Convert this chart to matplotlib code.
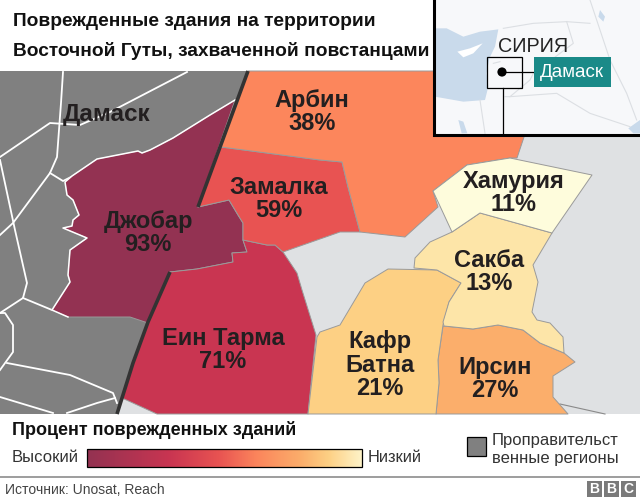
import numpy as np
import matplotlib.pyplot as plt
from matplotlib.colors import LinearSegmentedColormap
from matplotlib.patches import Polygon, Rectangle, Circle

plt.rcParams['font.family'] = ['Liberation Sans', 'DejaVu Sans']

# region values, labels and colours
labels = ['Джобар\n93%', 'Еин Тарма\n71%', 'Замалка\n59%', 'Арбин\n38%',
          'Ирсин\n27%', 'Кафр\nБатна\n21%', 'Сакба\n13%', 'Хамурия\n11%']
colors = ['#933252', '#c93551', '#e85352', '#fc865c', '#fbae6b', '#fdd084', '#fde5a8', '#fefcdc']
label_xy = [(148, 233), (223, 350), (279, 199), (312, 112), (495, 379), (380, 365), (489, 272), (514, 193)]

# outlines in pixels
jobar = [(235,100),(210,115),(173,138),(150,150),(142,153),(138,151),(97,159),(72,176),(65,182),
         (67,195),(73,200),(79,215),(73,220),(72,226),(63,228),(87,238),(70,250),(68,275),(70,282),
         (52,310),(68,317),(130,317),(148,323),(170,272),(197,269),(233,262),(232,253),(247,252),
         (243,240),(243,223),(238,215),(229,200),(198,207)]
ein_tarma = [(170,272),(197,269),(233,262),(232,253),(247,252),(243,240),(267,245),(275,245),(283,252),
             (297,273),(302,290),(316,335),(308,414),(157,414),(122,398),(133,363),(148,322)]
zamalka = [(221,147),(320,160),(342,162),(348,187),(360,232),(340,232),(320,239),(283,252),(275,245),
           (267,245),(243,240),(243,223),(238,215),(229,200),(198,207)]
arbin = [(248,71),(524,71),(524,137),(517,158),(510,158),(467,165),(433,191),(438,207),(405,237),
         (360,232),(348,187),(342,162),(320,160),(221,147)]
irsin = [(443,326),(473,329),(498,325),(523,330),(540,343),(564,353),(575,362),(553,376),(553,397),
         (568,414),(436,414),(439,383),(438,360)]
kafr_batna = [(388,269),(437,270),(461,283),(449,302),(443,325),(438,360),(439,383),(436,414),(308,414),
              (317,337),(320,332),(340,325),(365,283)]
sakba = [(480,213),(552,233),(533,265),(538,282),(532,312),(537,320),(550,323),(563,337),(564,353),
         (540,343),(523,330),(498,325),(473,329),(444,326),(443,322),(449,302),(461,283),(437,270),
         (414,268),(415,258),(430,242),(452,232)]
hamuria = [(433,191),(467,165),(510,158),(592,175),(552,233),(480,213),(452,232)]
regions = [jobar, ein_tarma, zamalka, arbin, irsin, kafr_batna, sakba, hamuria]

gov_area = [(0,71),(248,71),(198,207),(170,272),(117,414),(0,414)]
front_line_a = [(248,71),(198,207)]
front_line_b = [(170,272),(148,322),(133,363),(117,414)]
roads = [[(63,72),(61,103),(57,157),(50,173),(13,223),(0,235)],
         [(187,72),(110,112),(80,125),(50,123),(0,157)],
         [(0,160),(15,230),(27,283),(23,298),(0,313)],
         [(50,173),(63,181),(71,177)],
         [(23,298),(52,310)],
         [(0,313),(5,313),(13,325),(13,352),(0,370)],
         [(7,363),(70,375),(113,393),(117,403)],
         [(0,397),(53,413)],
         [(67,413),(97,403),(115,398)]]

# inset map, coordinates from a 3x crop
sea = [(15,85),(50,85),(100,110),(150,95),(190,90),(205,88),(195,140),(178,175),(170,220),(175,260),
       (165,300),(100,305),(15,290)]
cyprus = [(82,155),(120,145),(158,130),(130,160),(100,172)]
borders = [[(220,85),(310,70),(410,65),(480,70)],
           [(410,65),(430,130),(310,220),(300,240),(240,290),(225,290)],
           [(480,0),(500,60),(540,180),(590,280),(620,360)],
           [(240,290),(380,280),(480,340),(600,380)],
           [(150,300),(165,400)],[(190,190),(210,185)]]
gulf = [(85,360),(100,365),(112,400),(95,400)]
lake = [(510,30),(525,50),(520,65),(505,50)]
east_gulf = [(595,385),(630,360),(630,400),(610,400)]

legend_stops = [0, 0.3, 0.48, 0.62, 0.78, 0.88, 1]
legend_cols = ['#933252', '#c93551', '#e85352', '#fc865c', '#fbae6b', '#fdd084', '#fef3c8']
grey = '#808080'
ink = '#231f20'


def inset_pts(pts):
    return np.array(pts) / 3 + np.array([430, 0])


fig = plt.figure(figsize=(6.4, 5.0), dpi=100)
ax = fig.add_axes([0, 0, 1, 1])

# map background
ax.add_patch(Rectangle((0, 71), 640, 343, fc='#dfe1e3', ec='none', zorder=0))
ax.plot([560, 605], [404, 414], color='#8a8a8a', lw=0.8, zorder=1)
ax.add_patch(Polygon(gov_area, fc=grey, ec='none', zorder=1))
for road in roads:
    r = np.array(road)
    ax.plot(r[:, 0], r[:, 1], color='white', lw=1.3, zorder=2)

for pts, col in zip(regions, colors):
    ax.add_patch(Polygon(pts, fc=col, ec='#9a9a9a', lw=0.7, zorder=3, joinstyle='round'))

# white edge between Jobar and the grey part
edge = np.array(jobar[:21])
ax.plot(edge[:, 0], edge[:, 1], color='white', lw=1.1, zorder=4)

for line in (front_line_a, front_line_b):
    l = np.array(line)
    ax.plot(l[:, 0], l[:, 1], color='#333333', lw=2.6, zorder=5, solid_capstyle='butt')

for (x, y), txt in zip(label_xy, labels):
    ax.text(x, y, txt, fontsize=17, fontweight='bold', color=ink, ha='center', va='center',
            linespacing=1.05, zorder=6)
ax.text(107, 115, 'Дамаск', fontsize=17.5, fontweight='bold', color=ink, ha='center', va='center', zorder=6)

# title
ax.text(13, 21, 'Поврежденные здания на территории', fontsize=13.75, fontweight='bold', color='#111111', va='center')
ax.text(13, 51, 'Восточной Гуты, захваченной повстанцами', fontsize=13.75, fontweight='bold', color='#111111', va='center')

# inset
ax.add_patch(Rectangle((434, 0), 206, 135, fc='#f7f8fa', ec='none', zorder=7))
ax.add_patch(Polygon(inset_pts(sea), fc='#c9daeb', ec='none', zorder=8))
ax.add_patch(Polygon(inset_pts(cyprus), fc='white', ec='none', zorder=8))
for shape in (gulf, lake, east_gulf):
    ax.add_patch(Polygon(inset_pts(shape), fc='#c9daeb', ec='none', zorder=8))
for b in borders:
    p = inset_pts(b)
    ax.plot(p[:, 0], p[:, 1], color='#dcdfe3', lw=0.8, zorder=8)
ax.add_patch(Rectangle((487, 57), 35, 31, fc='none', ec='black', lw=0.9, zorder=9))
ax.plot([503, 503], [88, 135], color='black', lw=0.9, zorder=9)
ax.plot([502, 534], [72, 72], color='black', lw=0.9, zorder=9)
ax.add_patch(Circle((502, 72), 4.6, fc='black', ec='none', zorder=10))
ax.add_patch(Rectangle((534, 57), 77, 30, fc='#1a8a88', ec='none', zorder=9))
ax.text(572, 72.5, 'Дамаск', fontsize=13.5, color='white', ha='center', va='center', zorder=10)
ax.text(533, 47, 'СИРИЯ', fontsize=14.2, color='#222222', ha='center', va='center', zorder=10)
ax.plot([434, 434, 640], [0, 135, 135], color='black', lw=2.2, zorder=11, solid_joinstyle='miter')

# legend
ax.text(12, 430, 'Процент поврежденных зданий', fontsize=13, fontweight='bold', color='#111111', va='center')
ax.text(12, 458, 'Высокий', fontsize=12, color='#333333', va='center')
ax.text(368, 458, 'Низкий', fontsize=11.8, color='#333333', va='center')
cmap = LinearSegmentedColormap.from_list('damage', list(zip(legend_stops, legend_cols)))
ax.imshow(np.linspace(0, 1, 256).reshape(1, -1), cmap=cmap, aspect='auto', extent=(87, 362, 467, 449), zorder=3)
ax.add_patch(Rectangle((87, 449), 275, 18, fc='none', ec='black', lw=0.9, zorder=4))
ax.add_patch(Rectangle((467, 437), 19, 19, fc=grey, ec='black', lw=0.9, zorder=4))
ax.text(492, 441, 'Проправительст', fontsize=12, color='#333333', va='center')
ax.text(492, 459, 'венные регионы', fontsize=12, color='#333333', va='center')

# footer
ax.plot([0, 640], [477, 477], color='#8c8c8c', lw=1.2)
ax.text(5, 490, 'Источник: Unosat, Reach', fontsize=10, color='#444444', va='center')
for x, letter in zip([587, 604, 621], 'BBC'):
    ax.add_patch(Rectangle((x, 481), 15, 16, fc='#7a7a7a', ec='none'))
    ax.text(x + 7.5, 489.3, letter, fontsize=10, fontweight='bold', color='white', ha='center', va='center')

ax.set_xlim(0, 640)
ax.set_ylim(500, 0)
ax.axis('off')
fig.savefig('out.png', dpi=100)
